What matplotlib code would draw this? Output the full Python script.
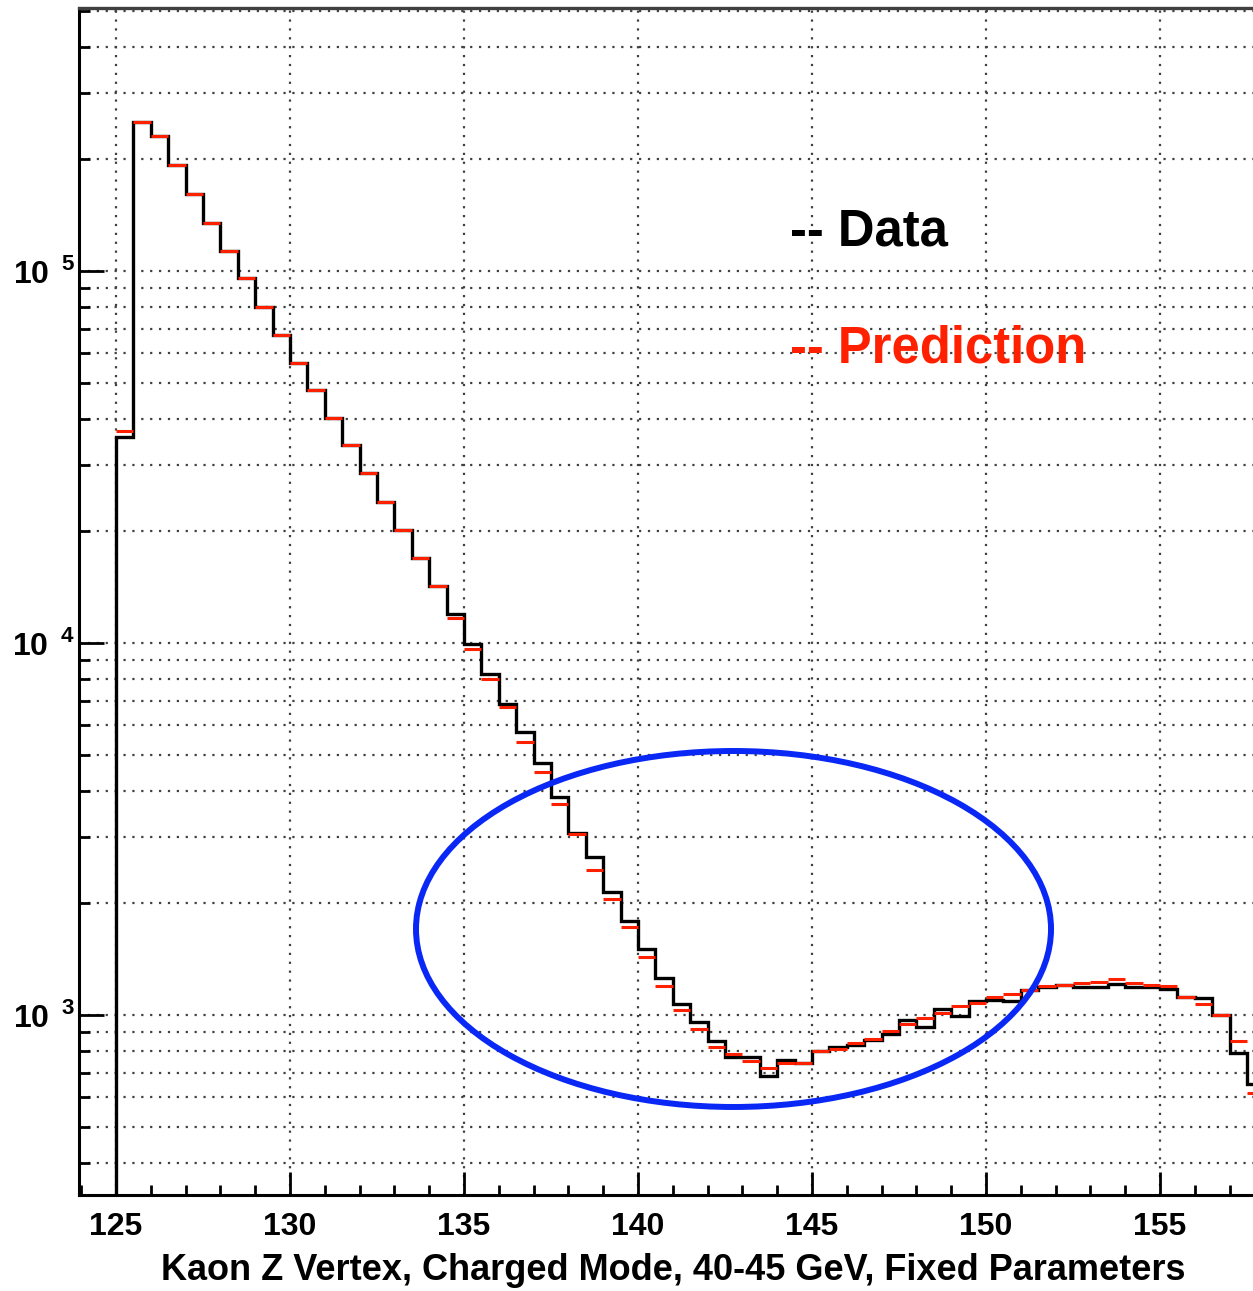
import numpy as np
import matplotlib
matplotlib.use("Agg")
import matplotlib.pyplot as plt
from matplotlib.patches import Ellipse
from matplotlib.ticker import FixedLocator, FuncFormatter, NullFormatter

plt.rcParams['font.family'] = ['Liberation Sans', 'DejaVu Sans']
plt.rcParams['mathtext.fontset'] = 'custom'
plt.rcParams['mathtext.bf'] = 'Liberation Sans:bold'
plt.rcParams['mathtext.rm'] = 'Liberation Sans:bold'

# bin edges (0.5 wide bins)
bin_edges = np.arange(125.0, 158.01, 0.5)

data_counts = [35800, 251500, 230600, 192700, 161100, 134800, 113400, 95600, 80050, 67430,
               56570, 47870, 40180, 33960, 28590, 23980, 20130, 16960, 14230, 11950,
               9940, 8255, 6855, 5776, 4750, 3847, 3079, 2651, 2145, 1793,
               1504, 1255, 1071, 959, 853, 773, 773, 686, 757, 744,
               802, 820, 831, 857, 889, 970, 927, 1036, 994, 1092,
               1097, 1092, 1167, 1192, 1206, 1187, 1187, 1211, 1192, 1192,
               1172, 1120, 1109, 999, 789, 652]

pred_counts = [37150, 251500, 230600, 192700, 161100, 134800, 113400, 95600, 80050, 67430,
               56570, 47870, 40180, 33960, 28590, 23980, 20130, 16960, 14230, 11650,
               9620, 8017, 6716, 5428, 4491, 3692, 3066, 2446, 2053, 1719,
               1432, 1197, 1031, 915, 822, 786, 754, 719, 742, 742,
               802, 810, 839, 860, 908, 946, 980, 1014, 1057, 1079,
               1120, 1139, 1164, 1197, 1206, 1217, 1229, 1247, 1217, 1204,
               1197, 1120, 1071, 999, 853, 616]

x_ticks = [125, 130, 135, 140, 145, 150, 155]
x_label = "Kaon Z Vertex, Charged Mode, 40-45 GeV, Fixed Parameters"
legend_labels = ["-- Data", "-- Prediction"]

W, H = 1253, 1291
fig = plt.figure(figsize=(W / 100, H / 100), dpi=100)
ax = fig.add_axes([79 / W, (H - 1195) / H, (W - 79) / W, 1187 / H])

ax.set_yscale('log')
ax.set_xlim(123.937, 157.672)
ax.set_ylim(328.1, 509000)

# grid
grid_style = dict(color='0.25', linestyle=(0, (1.0, 3.0)), linewidth=1.6)
ax.set_axisbelow(True)
ax.xaxis.set_major_locator(FixedLocator(x_ticks))
ax.xaxis.set_minor_locator(FixedLocator(np.arange(124, 158, 1.0)))
ax.yaxis.set_major_locator(FixedLocator([1e3, 1e4, 1e5]))
minor_y = [m * 10 ** e for e in (2, 3, 4, 5) for m in range(2, 10)]
ax.yaxis.set_minor_locator(FixedLocator(minor_y))
ax.grid(True, which='major', axis='x', **grid_style)
ax.grid(True, which='both', axis='y', **grid_style)

# histograms
edges = bin_edges
ax.stairs(data_counts, edges, baseline=1e-3, color='black', linewidth=2.4, zorder=3)
ax.hlines(pred_counts, edges[:-1], edges[1:], color='#ff2000', linewidth=2.2, zorder=4)

# ticks
ax.tick_params(axis='both', which='both', direction='in', width=2.0, colors='black')
ax.tick_params(axis='y', which='major', length=18, pad=3)
ax.tick_params(axis='y', which='minor', length=8)
ax.tick_params(axis='x', which='major', length=16.5, pad=12)
ax.tick_params(axis='x', which='minor', length=7)
ax.yaxis.set_minor_formatter(NullFormatter())
ax.yaxis.set_major_formatter(FuncFormatter(
    lambda v, p: r'$\mathbf{10}^{\;\;\mathbf{%d}}$' % int(round(np.log10(v)))))
for lab in ax.get_xticklabels():
    lab.set_fontsize(23)
    lab.set_fontweight('bold')
for lab in ax.get_yticklabels():
    lab.set_fontsize(23)

for side in ('left', 'bottom'):
    ax.spines[side].set_linewidth(2.2)
ax.spines['top'].set_linewidth(2.4)
ax.spines['top'].set_color('0.25')
ax.spines['right'].set_visible(False)

ax.set_xlabel(x_label, fontsize=26, fontweight='bold')
ax.xaxis.set_label_coords(0.506, -0.049)

# legend texts
ax.text(0.6056, 0.811, legend_labels[0], transform=ax.transAxes, fontsize=36.5,
        fontweight='bold', color='black', va='center', ha='left', zorder=6)
ax.text(0.6056, 0.7124, legend_labels[1], transform=ax.transAxes, fontsize=36.5,
        fontweight='bold', color='#ff2000', va='center', ha='left', zorder=6)

# blue ellipse annotation
ell = Ellipse((0.5575, 0.2241), 0.5409, 0.2999, transform=ax.transAxes,
              fill=False, edgecolor='#0a28f5', linewidth=4.3, zorder=7)
ax.add_patch(ell)

fig.savefig('out.png', dpi=100)
